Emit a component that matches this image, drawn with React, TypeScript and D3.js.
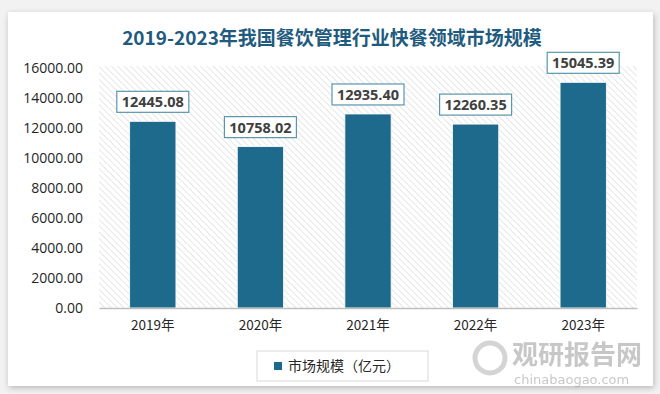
import {useEffect, useRef} from "react";
import * as d3 from "d3";

const SvgWidth = 660;
const SvgHeight = 394;

const years = ["2019年", "2020年", "2021年", "2022年", "2023年"];
const marketSize = [12445.08, 10758.02, 12935.40, 12260.35, 15045.39];
const yTicks = [0, 2000, 4000, 6000, 8000, 10000, 12000, 14000, 16000];

const barColor = "#1d6a8c";
const titleColor = "#1f5b7e";
const labelBorder = "#5a96ab";

function App(){
    const xAxisRef = useRef(null);
    const yAxisRef = useRef(null);

    let plotLeft = 99;
    let plotRight = 637;
    let plotTop = 68;
    let plotBottom = 308;

    const xScale = d3.scaleBand()
        .domain(years)
        .range([plotLeft, plotRight])
        .paddingInner(0.57)
        .paddingOuter(0.285);

    const yScale = d3.scaleLinear()
        .domain([0, 16000])
        .range([plotBottom, plotTop]);

    useEffect(() => {
        let xAxisElm = d3.select(xAxisRef.current);
        let yAxisElm = d3.select(yAxisRef.current);

        // @ts-ignore
        xAxisElm.call(d3.axisBottom(xScale).tickSize(0).tickPadding(12))
        xAxisElm.select(".domain").attr("stroke", "#bfbfbf").attr("stroke-width", 1.5)
        xAxisElm.selectAll("text")
            .attr("font-size", 13.5)
            .attr("font-family", "'Noto Sans CJK SC', 'Noto Sans', sans-serif")
            .attr("fill", "#262626")

        // @ts-ignore
        yAxisElm.call(d3.axisLeft(yScale).tickValues(yTicks).tickSize(0).tickPadding(16).tickFormat(d3.format(".2f")))
        yAxisElm.select(".domain").remove()
        yAxisElm.selectAll("text")
            .attr("font-size", 14)
            .attr("font-family", "'Open Sans', 'Noto Sans', sans-serif")
            .attr("fill", "#262626")
    }, [])

    return (
        <div style={{position: "absolute", left: 0, top: 0}}>
            <svg width={SvgWidth} height={SvgHeight} style={{display: "block"}}>
                <defs>
                    <pattern id="hatch" width="4.5" height="4.5" patternUnits="userSpaceOnUse" patternTransform="rotate(-45)">
                        <line x1="0" y1="0" x2="0" y2="4.5" stroke="#dcdcdc" strokeWidth="1.4" />
                    </pattern>
                    <filter id="shadow" x="-5%" y="-5%" width="110%" height="110%">
                        <feGaussianBlur in="SourceAlpha" stdDeviation="3" />
                        <feOffset dx="1" dy="2" result="blur" />
                        <feComponentTransfer><feFuncA type="linear" slope="0.25" /></feComponentTransfer>
                        <feMerge><feMergeNode /><feMergeNode in="SourceGraphic" /></feMerge>
                    </filter>
                </defs>
                <rect x={0} y={0} width={SvgWidth} height={SvgHeight} fill="#f2f2f2" />
                <rect x={8} y={12} width={645} height={374} fill="#ffffff" filter="url(#shadow)" />

                <text x={332} y={45} textAnchor="middle" fontSize={19} fontWeight="bold"
                      fontFamily="'Noto Sans CJK SC', sans-serif" fill={titleColor}>
                    2019-2023年我国餐饮管理行业快餐领域市场规模
                </text>

                <rect x={plotLeft} y={plotTop - 2} width={plotRight - plotLeft} height={plotBottom - plotTop + 2} fill="url(#hatch)" />

                {marketSize.map((v, i) => (
                    <rect key={years[i]}
                          x={xScale(years[i])}
                          y={yScale(v)}
                          width={xScale.bandwidth()}
                          height={plotBottom - yScale(v)}
                          fill={barColor}
                          stroke="#ffffff"
                          strokeWidth={0.8}
                    />
                ))}

                <g ref={xAxisRef} transform={`translate(0,${plotBottom})`}></g>
                <g ref={yAxisRef} transform={`translate(${plotLeft},0)`}></g>

                {marketSize.map((v, i) => {
                    let cx = (xScale(years[i]) as number) + xScale.bandwidth() / 2;
                    let by = yScale(v) - 9;
                    return (
                        <g key={"lab" + i}>
                            <rect x={cx - 36} y={by - 21} width={72} height={21}
                                  fill="#ffffff" stroke={labelBorder} strokeWidth={1.2} />
                            <text x={cx} y={by - 5} textAnchor="middle" fontSize={14.5} fontWeight="bold"
                                  fontFamily="'Open Sans', 'Noto Sans', sans-serif" fill="#404040">
                                {v.toFixed(2)}
                            </text>
                        </g>
                    )
                })}

                <g opacity={0.55}>
                    <circle cx={490} cy={358} r={15} fill="none" stroke="#b0b0b0" strokeWidth={5} />
                    <text x={512} y={364} fontSize={26} fontWeight="bold" fontFamily="'Noto Sans CJK SC', sans-serif" fill="#9a9a9a">观研报告网</text>
                    <text x={514} y={384} fontSize={13} fontFamily="'DejaVu Sans', sans-serif" fill="#9a9a9a">chinabaogao.com</text>
                </g>

                <rect x={257} y={351} width={171} height={30} fill="#ffffff" stroke="#d9d9d9" strokeWidth={1} />
                <rect x={274} y={362} width={8} height={8} fill={barColor} />
                <text x={288} y={371} fontSize={14} fontFamily="'Noto Sans CJK SC', sans-serif" fill="#262626">
                    市场规模（亿元）
                </text>
            </svg>
        </div>
    )
}

export default App;
